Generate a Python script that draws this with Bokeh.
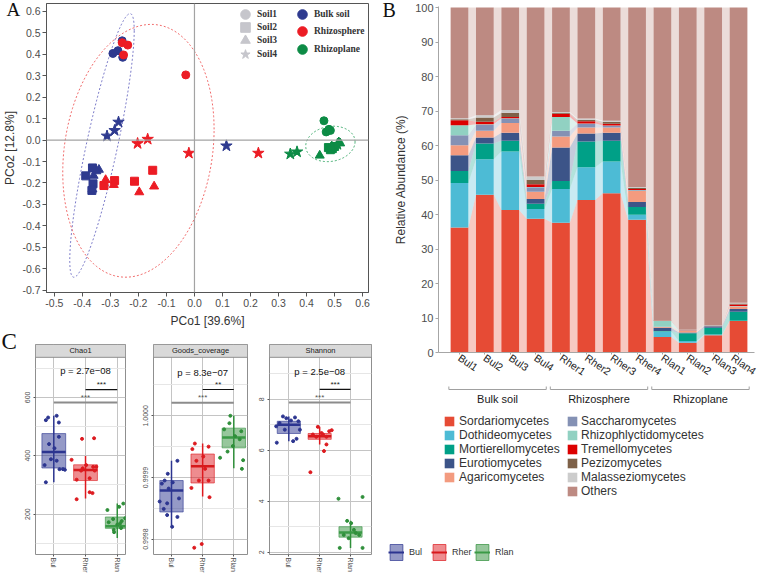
import numpy as np
from bokeh.plotting import figure
from bokeh.models import (ColumnDataSource, Legend, LegendItem, Span, Title,
                          FixedTicker, Range1d, PrintfTickFormatter)
from bokeh.layouts import row, column
from bokeh.embed import file_html
from bokeh.resources import INLINE
from bokeh.core.properties import value

SANS = "Liberation Sans"
SERIF = "Liberation Serif"
TXT = "#4d4d4d"
NAN = float("nan")

# ======================= Panel A data (PCoA) =======================
a_groups = ["Bulk soil", "Rhizosphere", "Rhizoplane"]
a_soils = ["Soil1", "Soil2", "Soil3", "Soil4"]
a_group = ["Bulk soil"] * 16 + ["Rhizosphere"] * 16 + ["Rhizoplane"] * 16
a_soil = (["Soil1"] * 4 + ["Soil2"] * 4 + ["Soil3"] * 4 + ["Soil4"] * 4) * 3
a_pc1 = [
    -0.258, -0.273, -0.291, -0.256,
    -0.388, -0.364, -0.362, -0.366,
    -0.341, -0.360, -0.364, -0.350,
    -0.312, -0.285, -0.271, 0.114,
    -0.258, -0.238, -0.253, -0.031,
    -0.323, -0.285, -0.214, -0.149,
    -0.317, -0.288, -0.197, -0.144,
    -0.203, -0.167, -0.020, 0.228,
    0.462, 0.470, 0.480, 0.485,
    0.478, 0.485, 0.492, 0.500,
    0.447, 0.515, 0.520, 0.490,
    0.342, 0.366, 0.490, 0.510,
]
a_pc2 = [
    0.463, 0.417, 0.404, 0.386,
    -0.167, -0.130, -0.204, -0.235,
    -0.138, -0.166, -0.230, -0.145,
    0.019, 0.045, 0.084, -0.027,
    0.454, 0.443, 0.397, 0.304,
    -0.212, -0.189, -0.192, -0.141,
    -0.186, -0.209, -0.243, -0.216,
    -0.016, 0.004, -0.061, -0.061,
    0.090, 0.038, 0.050, 0.045,
    -0.035, -0.045, -0.040, -0.030,
    -0.072, -0.010, -0.015, -0.030,
    -0.065, -0.055, -0.035, -0.020,
]
a_xticks = [-0.5, -0.4, -0.3, -0.2, -0.1, 0.0, 0.1, 0.2, 0.3, 0.4, 0.5, 0.6]
a_yticks = [-0.7, -0.6, -0.5, -0.4, -0.3, -0.2, -0.1, 0.0, 0.1, 0.2, 0.3, 0.4, 0.5, 0.6]
a_xlabel = "PCo1 [39.6%]"
a_ylabel = "PCo2 [12.8%]"

# ======================= Panel B data (class composition) =======================
b_samples = ["Bul1", "Bul2", "Bul3", "Bul4", "Rher1", "Rher2", "Rher3", "Rher4",
             "Rlan1", "Rlan2", "Rlan3", "Rlan4"]
b_sample_group = ["Bulk soil"] * 4 + ["Rhizosphere"] * 4 + ["Rhizoplane"] * 4
b_groups = ["Bulk soil", "Rhizosphere", "Rhizoplane"]
b_classes = ["Sordariomycetes", "Dothideomycetes", "Mortierellomycetes", "Eurotiomycetes",
             "Agaricomycetes", "Saccharomycetes", "Rhizophlyctidomycetes", "Tremellomycetes",
             "Pezizomycetes", "Malasseziomycetes", "Others"]
sordariomycetes = [36.2, 45.7, 41.3, 38.8, 37.6, 44.2, 46.2, 38.5, 4.5, 2.8, 5.0, 9.1]
dothideomycetes = [12.9, 10.3, 17.0, 2.8, 9.8, 9.5, 9.2, 1.4, 1.6, 0.5, 0.2, 0.1]
mortierellomycetes = [3.5, 4.6, 3.1, 1.5, 2.3, 7.5, 6.0, 2.3, 0.1, 2.3, 2.0, 2.6]
eurotiomycetes = [4.6, 1.7, 2.3, 1.4, 9.7, 2.3, 2.3, 1.4, 1.0, 0.2, 0.4, 0.8]
agaricomycetes = [2.9, 2.0, 2.8, 2.1, 3.2, 1.7, 1.5, 3.2, 0.2, 0.5, 0.1, 0.7]
saccharomycetes = [2.9, 1.7, 1.3, 1.3, 1.7, 1.1, 0.5, 0.2, 0.1, 0.1, 0.05, 0.1]
rhizophlyctidomycetes = [2.9, 0.2, 0.1, 0.1, 4.0, 0.1, 0.1, 0.1, 1.6, 0.05, 0.05, 0.1]
tremellomycetes = [1.4, 0.7, 0.4, 0.8, 0.9, 0.6, 0.5, 0.3, 0.1, 0.05, 0.0, 0.4]
pezizomycetes = [0.3, 1.2, 1.2, 1.2, 0.2, 0.5, 0.6, 0.3, 0.05, 0.05, 0.0, 0.3]
malasseziomycetes = [0.3, 0.7, 0.8, 1.0, 0.3, 0.3, 0.3, 0.3, 0.05, 0.05, 0.0, 0.2]
b_named = [sordariomycetes, dothideomycetes, mortierellomycetes, eurotiomycetes,
           agaricomycetes, saccharomycetes, rhizophlyctidomycetes, tremellomycetes,
           pezizomycetes, malasseziomycetes]
others = [round(100 - sum(col), 2) for col in zip(*b_named)]
b_values = b_named + [others]
b_yticks = [0, 10, 20, 30, 40, 50, 60, 70, 80, 90, 100]

# ======================= Panel C data (alpha diversity) =======================
c_groups = ["Bul", "Rher", "Rlan"]
chao1_bul = [522, 531, 537, 514, 465, 440, 426, 388, 383, 368, 354, 354, 352, 309]
chao1_bul_jit = [-0.25, -0.18, 0.09, 0.16, 0.16, -0.15, 0.02, -0.09, 0.09, -0.29, 0.18, 0.29, 0.35, -0.25]
chao1_rher = [458, 460, 386, 362, 362, 357, 368, 349, 349, 323, 318, 275, 272, 251]
chao1_rher_jit = [-0.11, 0.27, -0.44, 0.24, 0.34, -0.09, 0.02, 0.29, -0.14, 0.13, -0.28, 0.13, 0.22, -0.28]
chao1_rlan = [236, 214, 225, 183, 168, 172, 146, 138, 84, 186, 176, 164, 152]
chao1_rlan_jit = [0.19, -0.31, 0.06, -0.13, 0.09, -0.27, -0.11, -0.10, 0.35, 0.25, 0.14, 0.0, 0.12]
chao1_box = dict(lo=[309, 253, 118], q1=[358, 315, 151], med=[413, 351, 158],
                 q3=[476, 369, 190], hi=[537, 399, 236])

goods_bul = [0.999927, 0.999906, 0.999895, 0.999892, 0.999890, 0.999861, 0.999858,
             0.999866, 0.999849, 0.999839, 0.999836, 0.999820, 0.999882]
goods_bul_jit = [0.19, -0.12, -0.22, 0.04, -0.31, -0.38, -0.14, 0.24, -0.25, -0.14, 0.19, 0.02, -0.09]
goods_rher = [0.999955, 0.999950, 0.999946, 0.999934, 0.999895, 0.999895, 0.999883,
              0.999868, 0.999792, 0.999786, 0.999927, 0.999914]
goods_rher_jit = [-0.25, 0.19, -0.33, 0.02, -0.12, 0.19, -0.36, 0.22, -0.03, -0.27, -0.20, 0.08]
goods_rlan = [1.000000, 0.999988, 0.999978, 0.999967, 0.999942, 0.999932, 0.999928,
              0.999914, 0.999962, 0.999951, 0.999975]
goods_rlan_jit = [-0.11, -0.14, -0.31, 0.04, -0.20, -0.44, 0.30, 0.26, 0.19, -0.03, 0.24]
goods_box = dict(lo=[0.999820, 0.999869, 0.999915], q1=[0.999844, 0.999891, 0.999948],
                 med=[0.999879, 0.999918, 0.999965], q3=[0.999895, 0.999938, 0.999980],
                 hi=[0.999927, 0.999955, 1.000000])

shannon_bul = [7.33, 7.26, 7.29, 7.17, 7.07, 7.14, 6.94, 6.81, 6.81, 6.45, 6.36, 6.30]
shannon_bul_jit = [-0.19, -0.08, 0.20, 0.07, -0.30, 0.31, -0.41, -0.13, 0.36, 0.25, 0.14, -0.39]
shannon_rher = [6.92, 6.79, 6.75, 6.62, 6.62, 6.53, 6.53, 6.23, 5.97, 5.14, 6.68]
shannon_rher_jit = [-0.06, 0.39, 0.31, -0.22, 0.11, 0.22, -0.11, 0.22, 0.14, -0.30, 0.06]
shannon_rlan = [4.17, 4.10, 3.23, 3.14, 2.88, 2.17, 2.17, 2.68, 2.68, 2.55, 2.75]
shannon_rlan_jit = [0.39, -0.39, -0.11, 0.02, 0.11, -0.35, 0.39, -0.22, 0.28, -0.06, 0.17]
shannon_box = dict(lo=[6.36, 6.23, 2.17], q1=[6.66, 6.43, 2.59], med=[7.00, 6.55, 2.77],
                   q3=[7.14, 6.66, 3.00], hi=[7.33, 6.92, 3.23])

chao1_p = "p = 2.7e\u221208"
goods_p = "p = 8.3e\u221207"
shannon_p = "p = 2.5e\u221208"
chao1_stars = ["***", "***"]
goods_stars = ["***", "**"]
shannon_stars = ["***", "***"]

# ======================= Styles =======================
a_group_colors = {"Bulk soil": "#2e3a8f", "Rhizosphere": "#ec1c24", "Rhizoplane": "#0c8b45"}
a_marker_style = {"Soil1": ("circle", 8), "Soil2": ("square", 8),
                  "Soil3": ("triangle", 9), "Soil4": ("star", 12)}
a_ellipse_color = {"Bulk soil": "#7a7ac8", "Rhizosphere": "#f06a6a", "Rhizoplane": "#3aaa6a"}
# centre x, centre y, x semi-axis, y semi-axis, shear
a_ellipse_shape = {"Bulk soil": (-0.33, -0.025, 0.115, 0.303, 0.535),
                   "Rhizosphere": (-0.20, -0.05, 0.27, 0.581, 0.10),
                   "Rhizoplane": (0.485, -0.018, 0.088, 0.082, 0.01)}
b_colors = ["#E64B35", "#4DBBD5", "#00A087", "#3C5488", "#F39B7F", "#8491B4",
            "#91D1C2", "#DC0000", "#7E6148", "#CCCCCC", "#BD8A82"]
c_colors = ["#2c3590", "#dd1a1f", "#2f8f3a"]
c_med_colors = ["#2c3590", "#d7191c", "#3a9a46"]


def style_axis(ax, size="10.5px"):
    ax.major_label_text_font = SANS
    ax.major_label_text_font_size = size
    ax.major_label_text_color = TXT
    ax.axis_label_text_font = SANS
    ax.axis_label_text_font_style = "normal"
    ax.axis_label_text_color = "#333333"
    ax.minor_tick_line_color = None


def panel_letter(p, letter, size, offset, standoff):
    t = Title(text=letter, align="left", text_font=SERIF, text_font_size=size,
              text_font_style="normal", text_color="#111111")
    try:
        t.offset = offset
        t.standoff = standoff
    except Exception:
        pass
    p.add_layout(t, "above")


# ======================= Panel A figure =======================
AX0, AX1, AY0, AY1 = -0.528, 0.621, -0.711, 0.637
pa = figure(width=380, height=330, x_range=Range1d(AX0, AX1), y_range=Range1d(AY0, AY1),
            min_border_left=43, min_border_right=12, min_border_top=3, min_border_bottom=36,
            output_backend="svg", toolbar_location=None)
pa.xgrid.visible = False
pa.ygrid.visible = False
pa.outline_line_color = "#555555"
pa.add_layout(Span(location=0, dimension="height", line_color="#a3a3a3", line_width=1.2))
pa.add_layout(Span(location=0, dimension="width", line_color="#a3a3a3", line_width=1.2))

tt = np.linspace(0, 2 * np.pi, 240)
for g in a_groups:
    cx, cy, ea, eb, ek = a_ellipse_shape[g]
    pa.line(cx + ea * np.cos(tt), cy + ek * np.cos(tt) + eb * np.sin(tt),
            line_color=a_ellipse_color[g], line_dash="2 2", line_width=1)

for s in a_soils:
    idx = [i for i, v in enumerate(a_soil) if v == s]
    src = ColumnDataSource(dict(x=[a_pc1[i] for i in idx], y=[a_pc2[i] for i in idx],
                                c=[a_group_colors[a_group[i]] for i in idx]))
    m, sz = a_marker_style[s]
    pa.scatter("x", "y", source=src, marker=m, size=sz, fill_color="c", line_color="c")

# legend entries (one legend box per entry, placed in the frame's top-right corner)
a_shape_leg_pos = [(187, 266), (187, 253), (187, 240), (187, 226)]
a_color_leg_pos = [(244, 266), (244, 249), (244, 231)]
for s, loc in zip(a_soils, a_shape_leg_pos):
    m, sz = a_marker_style[s]
    r = pa.scatter(x=[NAN], y=[NAN], marker=m, size=sz, fill_color="#c6c6cc", line_color="#c6c6cc")
    pa.add_layout(Legend(items=[LegendItem(label=s, renderers=[r])], location=loc,
                         glyph_width=24, glyph_height=24, label_standoff=-1, label_height=10,
                         label_text_font=SERIF, label_text_font_style="bold",
                         label_text_font_size="9.5px", label_text_color="#333333",
                         background_fill_alpha=0, border_line_color=None, padding=0, margin=0))
for g, loc in zip(a_groups, a_color_leg_pos):
    r = pa.scatter(x=[NAN], y=[NAN], marker="circle", size=9, fill_color=a_group_colors[g],
                   line_color=a_group_colors[g])
    pa.add_layout(Legend(items=[LegendItem(label=g, renderers=[r])], location=loc,
                         glyph_width=24, glyph_height=24, label_standoff=-3, label_height=10,
                         label_text_font=SERIF, label_text_font_style="bold",
                         label_text_font_size="9.5px", label_text_color="#333333",
                         background_fill_alpha=0, border_line_color=None, padding=0, margin=0))

pa.xaxis.ticker = FixedTicker(ticks=a_xticks)
pa.xaxis.formatter = PrintfTickFormatter(format="%.1f")
pa.yaxis.ticker = FixedTicker(ticks=a_yticks)
pa.yaxis.formatter = PrintfTickFormatter(format="%.1f")
pa.xaxis.axis_label = a_xlabel
pa.yaxis.axis_label = a_ylabel
for ax in (pa.xaxis[0], pa.yaxis[0]):
    style_axis(ax)
    ax.axis_label_text_font_size = "12px"
    ax.axis_line_color = "#555555"
    ax.major_tick_line_color = "#555555"
    ax.major_tick_out = 4
    ax.major_tick_in = 0
    ax.major_label_standoff = 2
pa.yaxis.axis_label_standoff = 2
pa.xaxis.axis_label_standoff = 4
panel_letter(pa, "A", "19px", -40, -32)

# ======================= Panel B figure =======================
b_x = list(range(1, len(b_samples) + 1))
BW = 0.7
BX0, BX1 = 0.172, 12.63
B_ML, B_MR, B_W = 58, 4, 378
B_FW = B_W - B_ML - B_MR
pb = figure(width=B_W, height=385, x_range=Range1d(BX0, BX1), y_range=Range1d(0, 100.3),
            min_border_left=B_ML, min_border_right=B_MR, min_border_top=6, min_border_bottom=32,
            output_backend="svg", toolbar_location=None)
pb.xgrid.visible = False
pb.ygrid.visible = False
pb.outline_line_color = None

vals = np.array(b_values, dtype=float)
tops = np.cumsum(vals, axis=0)
bots = tops - vals
for k, c in enumerate(b_colors):
    xs, ys = [], []
    for i in range(len(b_x) - 1):
        xr = b_x[i] + BW / 2
        xl = b_x[i + 1] - BW / 2
        xs.append([xr, xr, xl, xl])
        ys.append([bots[k][i], tops[k][i], tops[k][i + 1], bots[k][i + 1]])
    pb.patches(xs, ys, fill_color=c, fill_alpha=0.3, line_color=None)

bsrc = dict(x=b_x)
for name, v in zip(b_classes, b_values):
    bsrc[name] = v
pb.vbar_stack(b_classes, x="x", width=BW, fill_color=b_colors, line_color=None,
              source=ColumnDataSource(bsrc))

pb.yaxis.ticker = FixedTicker(ticks=b_yticks)
pb.yaxis.axis_label = "Relative Abundance (%)"
pb.xaxis.ticker = FixedTicker(ticks=b_x)
pb.xaxis.major_label_overrides = {x: s for x, s in zip(b_x, b_samples)}
pb.xaxis.major_label_orientation = -0.6
for ax in (pb.xaxis[0], pb.yaxis[0]):
    style_axis(ax, "11px")
    ax.axis_line_color = "#a6a6a6"
    ax.major_tick_line_color = "#a6a6a6"
    ax.major_tick_out = 3
    ax.major_tick_in = 0
    ax.major_label_standoff = 2
pb.xaxis.major_label_text_font_size = "10.5px"
pb.xaxis.major_tick_out = 2
pb.yaxis.axis_label_text_font_size = "12px"
pb.yaxis.axis_label_standoff = 4
pb.xaxis.major_label_text_color = "#222222"
panel_letter(pb, "B", "20px", -56, -28)

# ---- B lower part: group brackets, group names and legends ----
SUBH = 190
SX0 = BX0 - B_ML * (BX1 - BX0) / B_FW
pbs = figure(width=B_W, height=SUBH, x_range=Range1d(SX0, BX1), y_range=Range1d(0, SUBH),
             x_axis_type=None, y_axis_type=None,
             min_border_left=0, min_border_right=B_MR, min_border_top=0, min_border_bottom=0,
             output_backend="svg", toolbar_location=None)
pbs.outline_line_color = None
bx, by, gx = [], [], []
for g in b_groups:
    pos = [x for x, gg in zip(b_x, b_sample_group) if gg == g]
    x0, x1 = min(pos) - 0.42, max(pos) + 0.42
    bx.append([x0, x0, x1, x1])
    by.append([SUBH - 1, SUBH - 4, SUBH - 4, SUBH - 1])
    gx.append(sum(pos) / len(pos))
pbs.multi_line(bx, by, line_color="#a0a0a0", line_width=1)
pbs.text(x=gx, y=[SUBH - 13] * len(gx), text=b_groups, text_align="center",
         text_baseline="middle", text_font=value(SANS), text_font_size="11px",
         text_color="#1a1a1a")

leg_items = []
for name, c in zip(b_classes, b_colors):
    r = pbs.vbar(x=[NAN], top=[NAN], width=0.5, fill_color=c, line_color=None)
    leg_items.append(LegendItem(label=name, renderers=[r]))
for items, loc, so in ((leg_items[:5], (63, 91), 4), (leg_items[5:], (186, 77), 3)):
    leg = Legend(items=items, location=loc, orientation="vertical", glyph_width=12,
                 glyph_height=12, spacing=0, label_standoff=so, label_height=12,
                 label_text_font=SANS, label_text_font_size="12px",
                 label_text_color="#333333", background_fill_alpha=0,
                 border_line_color=None, padding=0, margin=0)
    pbs.add_layout(leg)

box_items = []
for g, c, mc in zip(c_groups, c_colors, c_med_colors):
    r1 = pbs.vbar(x=[NAN], top=[NAN], width=0.5, fill_color=c, fill_alpha=0.5, line_color=c,
                  line_alpha=0.7)
    r2 = pbs.line(x=[NAN, NAN], y=[NAN, NAN], line_color=mc, line_width=2)
    box_items.append(LegendItem(label=g, renderers=[r1, r2]))
pbs.add_layout(Legend(items=box_items, location=(8, 13), orientation="horizontal",
                      glyph_width=16, glyph_height=20, spacing=2, label_standoff=5,
                      label_height=10, label_text_font=SANS, label_text_font_size="9px",
                      label_text_color="#333333", background_fill_alpha=0,
                      border_line_color=None, padding=0, margin=0))

# ======================= Panel C figures =======================
CH = 245
CTOP, CBOT = 14, 18
FRAME_H = CH - CTOP - CBOT
STRIP_PX = 13


def facet(title, pts, jits, box, yr, ticks, minor, fmt, sig, pstr, stars, width, ml, mr, xr):
    y0, y1 = yr
    ys = y1 + (y1 - y0) * STRIP_PX / (FRAME_H - STRIP_PX)
    p = figure(width=width, height=CH, x_range=Range1d(*xr), y_range=Range1d(y0, ys),
               min_border_left=ml, min_border_right=mr, min_border_top=CTOP,
               min_border_bottom=CBOT, output_backend="svg", toolbar_location=None)
    p.outline_line_color = "#8f8f8f"
    p.xaxis.ticker = FixedTicker(ticks=[1, 2, 3])
    p.xaxis.major_label_overrides = {i + 1: g for i, g in enumerate(c_groups)}
    p.yaxis.ticker = FixedTicker(ticks=ticks, minor_ticks=minor)
    if fmt:
        p.yaxis.formatter = PrintfTickFormatter(format=fmt)
    for ax in (p.xaxis[0], p.yaxis[0]):
        style_axis(ax, "7px")
        ax.major_label_orientation = "vertical"
        ax.axis_line_color = None
        ax.major_tick_line_color = "#555555"
        ax.major_tick_out = 2
        ax.major_tick_in = 0
        ax.major_label_standoff = 1
    p.xgrid.grid_line_color = "#c4c4c4"
    p.ygrid.grid_line_color = "#c4c4c4"
    p.ygrid.minor_grid_line_color = "#e6e6e6"

    xs = [1, 2, 3]
    p.segment(x0=xs, y0=box["lo"], x1=xs, y1=box["hi"], line_color=c_colors, line_width=1.5)
    p.vbar(x=xs, bottom=box["q1"], top=box["q3"], width=0.75, fill_color=c_colors,
           fill_alpha=0.5, line_color=c_colors, line_alpha=0.6)
    p.segment(x0=[x - 0.375 for x in xs], y0=box["med"], x1=[x + 0.375 for x in xs],
              y1=box["med"], line_color=c_med_colors, line_width=2.5)
    for gi, (vv, jj) in enumerate(zip(pts, jits)):
        p.scatter(x=[gi + 1 + j for j in jj], y=vv, size=3, color=c_colors[gi])

    gy, ky, py = sig
    p.segment(x0=[1], y0=[gy], x1=[3], y1=[gy], line_color="#8c8c8c", line_width=2)
    p.segment(x0=[2], y0=[ky], x1=[3], y1=[ky], line_color="#111111", line_width=1.2)
    p.text(x=[2, 2.5], y=[gy, ky], text=stars, text_align="center", text_baseline="middle",
           y_offset=-5, text_font=value(SANS), text_font_size="8px",
           text_color=["#555555", "#222222"])
    p.text(x=[2.0], y=[py], text=[pstr], text_align="center", text_baseline="middle",
           text_font=value(SANS), text_font_size="9.5px", text_color="#111111")

    p.quad(left=[xr[0]], right=[xr[1]], bottom=[y1], top=[ys], fill_color="#d9d9d9",
           line_color="#8f8f8f", line_width=1)
    p.text(x=[(xr[0] + xr[1]) / 2], y=[(y1 + ys) / 2], text=[title], text_align="center",
           text_baseline="middle", text_font=value(SANS), text_font_size="7.5px",
           text_color="#1a1a1a")
    return p


c1 = facet("Chao1", [chao1_bul, chao1_rher, chao1_rlan],
           [chao1_bul_jit, chao1_rher_jit, chao1_rlan_jit], chao1_box, (61.4, 737.5),
           [200, 400, 600], [100, 300, 500, 700], None, (583, 627, 692), chao1_p, chao1_stars,
           131, 35, 6, (0.423, 3.26))
panel_letter(c1, "C", "23px", -34, -18)
c2 = facet("Goods_coverage", [goods_bul, goods_rher, goods_rlan],
           [goods_bul_jit, goods_rher_jit, goods_rlan_jit], goods_box, (0.999775, 1.0000949),
           [0.9998, 0.9999, 1.0], [0.99985, 0.99995, 1.00005], "%.4f",
           (1.0000213, 1.0000427, 1.000071), goods_p, goods_stars, 119, 22, 3, (0.422, 3.44))
c3 = facet("Shannon", [shannon_bul, shannon_rher, shannon_rlan],
           [shannon_bul_jit, shannon_rher_jit, shannon_rlan_jit], shannon_box, (1.91, 9.65),
           [2, 4, 6, 8], [3, 5, 7, 9], None, (7.88, 8.39, 9.11), shannon_p, shannon_stars,
           130, 19, 9, (0.374, 3.68))

layout = row(column(pa, row(c1, c2, c3)), column(row(pb), row(pbs)))
open("out.html", "w").write(file_html(layout, INLINE))
